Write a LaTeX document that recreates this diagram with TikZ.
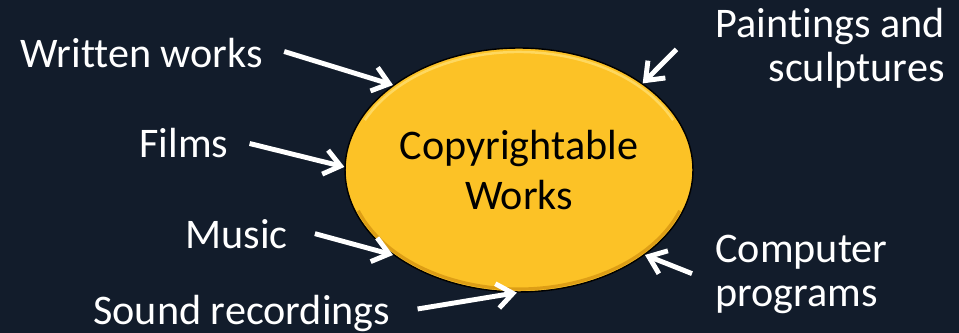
\documentclass[tikz,border=0pt]{standalone}
\usepackage{fontspec}
\setmainfont{Carlito}[RawFeature={-liga;-clig;-calt}]
\usepackage{tikz}
\usetikzlibrary{arrows.meta, shapes.geometric}
\definecolor{bgnavy}{RGB}{18,28,43}
\definecolor{gold}{RGB}{252,194,38}
\definecolor{golddark}{RGB}{214,150,18}
\definecolor{goldlight}{RGB}{255,222,110}

\begin{document}
\begin{tikzpicture}[x=0.02cm, y=0.02cm,
  lbl/.style={text=white, inner sep=0pt, font=\fontsize{24pt}{25pt}\selectfont},
  arr/.style={draw=white, line width=2.8pt, -{Straight Barb[length=9pt,width=14pt]}},
  hub/.style={ellipse, fill=gold, draw=black, line width=0.8pt, inner sep=0pt,
    minimum width=6.96cm, minimum height=4.88cm, align=center,
    font=\fontsize{24pt}{28pt}\selectfont}]
\fill[bgnavy] (0,0) rectangle (959,333);
\useasboundingbox (0,0) rectangle (959,333);
% central ellipse
\node[hub] (works) at (519,163) {Copyrightable\\Works};
\draw[goldlight, line width=1.4pt, opacity=0.8] (works.center) ++(25:170 and 118)
  arc[start angle=25, end angle=155, x radius=170, y radius=118];
\draw[golddark, line width=1.8pt, opacity=0.8] (works.center) ++(200:171 and 119)
  arc[start angle=200, end angle=340, x radius=171, y radius=119];
% labels
\node[lbl, anchor=base west] (ww) at (20,265) {Written works};
\node[lbl, anchor=base west] (fm) at (139,175) {Films};
\node[lbl, anchor=base west] (mu) at (185,84) {Music};
\node[lbl, anchor=base west] (sr) at (93,8) {Sound recordings};
\node[lbl, anchor=north east, align=right] (ps) at (945,325) {Paintings and\\sculptures};
\node[lbl, anchor=north west, align=left] (cp) at (715,98) {Computer\\programs};
% arrows
\draw[arr] ([shift={(21,2)}]ww.east) -- (works.146);
\draw[arr] ([shift={(21,0)}]fm.east) -- (works.179);
\draw[arr] ([shift={(27,1)}]mu.east) -- (works.214);
\draw[arr] ([shift={(27,5)}]sr.east) -- (works.269);
\draw[arr] ([shift={(-39,-1)}]ps.west) -- (works.35);
\draw[arr] ([shift={(-23,1)}]cp.west) -- (works.326);
\end{tikzpicture}
\end{document}
